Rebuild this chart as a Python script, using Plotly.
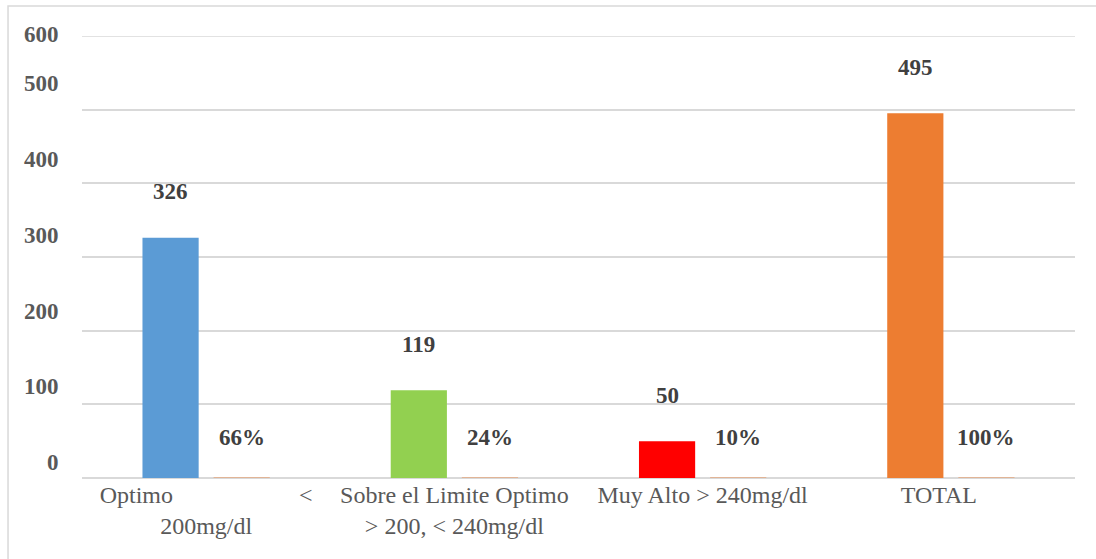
import plotly.graph_objects as go

# Colesterol total: número de casos y porcentaje por categoría
categories = [
    "Optimo" + "\u00a0" * 21 + "<<br>200mg/dl",
    "Sobre el Limite Optimo<br>> 200, < 240mg/dl",
    "Muy Alto > 240mg/dl",
    "TOTAL" + "\u00a0" * 4,
]
counts = [326, 119, 50, 495]
shares = [0.66, 0.24, 0.10, 1.00]
count_colors = ["#5B9BD5", "#92D050", "#FF0000", "#ED7D31"]
share_color = "#ED7D31"
y_ticks = [0, 100, 200, 300, 400, 500, 600]

fig = go.Figure()
fig.add_trace(go.Bar(
    x=categories, y=counts, marker=dict(color=count_colors, line=dict(width=0)),
    name="Casos", hoverinfo="skip",
))
fig.add_trace(go.Bar(
    x=categories, y=shares, marker=dict(color=share_color, line=dict(width=0), opacity=0.4),
    name="Porcentaje", hoverinfo="skip",
))

label_font = dict(family="Liberation Serif", size=23, color="#404040")
annotations = []
for cat, c, s in zip(categories, counts, shares):
    annotations.append(dict(x=cat, y=c, xref="x", yref="y", text=f"<b>{c}</b>",
                            showarrow=False, xshift=-35.5, yshift=46,
                            font=label_font, yanchor="middle"))
    annotations.append(dict(x=cat, y=s, xref="x", yref="y", text=f"<b>{round(s * 100)}%</b>",
                            showarrow=False, xshift=35.5, yshift=40,
                            font=label_font, yanchor="middle"))

# y-axis labels sit slightly above their gridlines
tick_font = dict(family="Liberation Serif", size=23, color="#595959")
tick_lift = [16, 18, 19, 22, 24, 26, 2]
for v, lift in zip(y_ticks, tick_lift):
    annotations.append(dict(x=-0.0211, y=v, xref="paper", yref="y", text=f"<b>{v}</b>",
                            showarrow=False, xanchor="right", yanchor="middle",
                            yshift=lift, font=tick_font))

grid_color = "#D9D9D9"
fig.update_layout(
    width=1096, height=559,
    margin=dict(l=82, r=21, t=36, b=81),
    paper_bgcolor="white", plot_bgcolor="white",
    barmode="group", bargap=0.427, bargroupgap=0.21,
    showlegend=False,
    annotations=annotations,
    shapes=[
        dict(type="rect", xref="paper", yref="paper",
             x0=-0.0745, x1=1.05, y0=-0.3, y1=1.0679,
             line=dict(color=grid_color, width=1.5), fillcolor="rgba(0,0,0,0)",
             layer="below"),
        # gridline at the top of the value range
        dict(type="line", xref="paper", yref="y", x0=0, x1=1, y0=y_ticks[-1], y1=y_ticks[-1],
             line=dict(color=grid_color, width=1.5), layer="below"),
    ],
    xaxis=dict(type="category", showgrid=False, showline=False, zeroline=False,
               ticks="", tickfont=dict(family="Liberation Serif", size=24, color="#595959"),
               tickangle=0),
    yaxis=dict(range=[0, 600], tickvals=y_ticks, showticklabels=False,
               showgrid=True, gridcolor=grid_color, gridwidth=1.5,
               zeroline=True, zerolinecolor=grid_color, zerolinewidth=1.5,
               showline=False, ticks=""),
)

fig.write_html("out.html")
